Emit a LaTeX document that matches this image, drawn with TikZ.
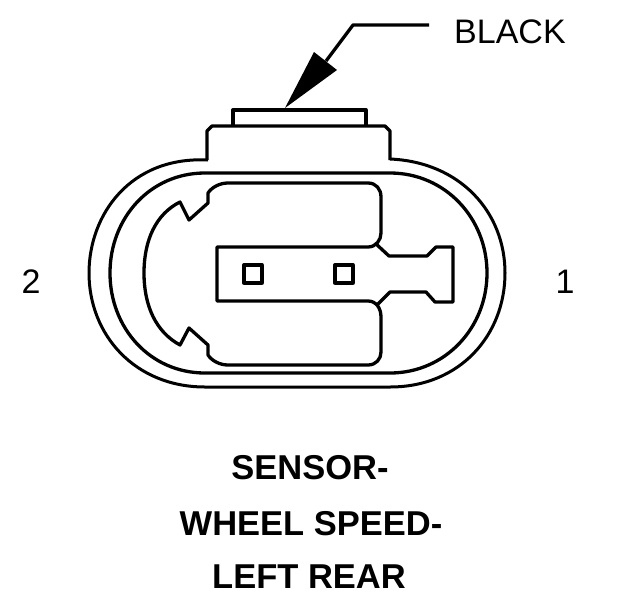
\documentclass[tikz,border=0pt]{standalone}
\usepackage{fontspec}
\setmainfont{Liberation Sans}
\tikzset{
  ln/.style={draw=black,line width=3.3pt,line join=round},
  thin ln/.style={draw=black,line width=3pt,line join=round},
  lab/.style={font=\fontsize{34}{38}\selectfont,inner sep=0pt,text=black},
  ttl/.style={font=\fontsize{34.5}{38}\selectfont\bfseries,inner sep=0pt,text=black}
}
\begin{document}
\begin{tikzpicture}[x=1pt,y=-1pt]
\useasboundingbox (0,0) rectangle (624,600);
\fill[white] (0,0) rectangle (624,600);
% outer oval
\draw[thin ln] (208,160) .. controls (130,156) and (89,215) .. (89,273)
  .. controls (89,335) and (135,387) .. (205,387) -- (390,387)
  .. controls (460,387) and (505,335) .. (505,273)
  .. controls (505,212) and (460,162) .. (390,159);
% inner oval
\draw[ln] (205,173) -- (390,173) .. controls (445,173) and (487,218) .. (487,273)
  .. controls (487,328) and (445,373) .. (390,373) -- (205,373)
  .. controls (150,373) and (110,328) .. (110,273)
  .. controls (110,218) and (150,173) .. (205,173) -- cycle;
% tab
\draw[ln] (207,160) -- (207,131) -- (212,126) -- (385,126) -- (390,131) -- (390,160);
\draw[ln] (233,126) -- (233,110) -- (366,110) -- (366,126);
% body
\draw[ln] (189,220) -- (180,202) .. controls (156,214) and (144,240) .. (144,273)
  .. controls (144,306) and (156,332) .. (180,345) -- (189,328) -- (208,345) -- (208,355)
  .. controls (212,361) and (220,365) .. (228,365) -- (368,365)
  .. controls (376,365) and (381,359) .. (381,352) -- (381,317)
  .. controls (381,308) and (376,301) .. (368,301) -- (217,301) -- (217,247) -- (368,247)
  .. controls (376,247) and (381,240) .. (381,233) -- (381,197)
  .. controls (381,189) and (376,183) .. (368,183) -- (228,183)
  .. controls (220,183) and (212,187) .. (208,193) -- (208,203) -- cycle;
% blade
\draw[ln] (375,243) -- (389,256) -- (427,256) -- (436,247) -- (453,247) -- (453,302) -- (435,302) -- (426,292) -- (390,292) -- (377,305);
% contacts
\draw[ln] (244,265) rectangle (262,283);
\draw[ln] (335,265) rectangle (353,283);
% labels
\node[lab,anchor=west] (black) at (454,32) {BLACK};
\node[lab] (two) at (31,282) {2};
\node[lab] (one) at (565,282) {1};
\node[ttl] (t1) at (310,468) {SENSOR-};
\node[ttl] (t2) at (311,524) {WHEEL SPEED-};
\node[ttl] (t3) at (309,577) {LEFT REAR};
% leader
\coordinate (lead) at (429,25);
\coordinate (bend) at (353,25);
\coordinate (base) at (326,61);
\draw[ln] (lead) -- (bend) -- (base);
\fill[black] (285,108) -- (314,52) -- (337,70) -- cycle;
\end{tikzpicture}
\end{document}
